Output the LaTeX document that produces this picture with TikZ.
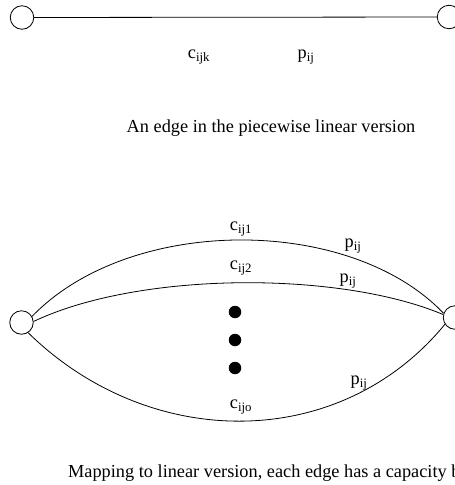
\documentclass[tikz,border=0pt]{standalone}
\usepackage{fontspec}
\setmainfont{Liberation Serif}
\usepackage{tikz}
\usetikzlibrary{calc,positioning}
\tikzset{
  vtx/.style={draw,circle,line width=0.8pt,minimum size=23.5pt,inner sep=0pt},
  ed/.style={line width=0.8pt},
  lbl/.style={font=\fontsize{18.3}{20}\selectfont,inner sep=0pt},
  captxt/.style={font=\fontsize{18.3}{20}\selectfont,inner sep=0pt,anchor=base west},
  dotc/.style={fill=black,circle,inner sep=0pt,minimum size=12.5pt}
}
\begin{document}
\begin{tikzpicture}[x=1pt,y=-1pt]
\useasboundingbox (0,0) rectangle (455,485);
% piecewise linear edge
\node[vtx] (tl) at (22,17.5) {};
\node[vtx] (tr) at (449,17) {};
\draw[ed] (tl) -- (tr);
\node[lbl] (ck) at (199,57) {c\textsubscript{ijk}};
\node[lbl] (pk) at (306,57) {p\textsubscript{ij}};
\node[captxt,anchor=center] (cap1) at (271,128) {An edge in the piecewise linear version};
% linear version
\node[vtx] (bl) at (21.5,322.5) {};
\node[vtx] (br) at (455,317.5) {};
\draw[ed] (bl.30) .. controls (130,215) and (350,215) .. (br.160);
\draw[ed] (bl.5) .. controls (140,271) and (340,271) .. (br.166);
\draw[ed] (bl.-57) .. controls (150,452) and (340,452) .. (br.214);
\node[lbl] (c1) at (241,229) {c\textsubscript{ij1}};
\node[lbl] (p1) at (353,246) {p\textsubscript{ij}};
\node[lbl] (c2) at (241,268) {c\textsubscript{ij2}};
\node[lbl] (p2) at (348,281) {p\textsubscript{ij}};
\node[lbl] (p3) at (359,383) {p\textsubscript{ij}};
\node[lbl] (co) at (241,407) {c\textsubscript{ijo}};
\foreach \y [count=\i] in {312,340,368}
  \node[dotc] (d\i) at (235,\y) {};
\node[captxt] (cap2) at (68,477) {Mapping to linear version, each edge has a capacity b\textsubscript{ijk}};
\end{tikzpicture}
\end{document}
